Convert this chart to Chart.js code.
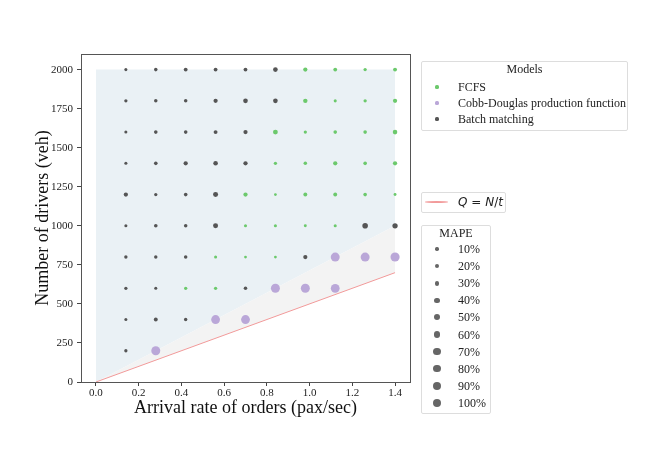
<!DOCTYPE html>
<html>
<head>
<meta charset="utf-8">
<script src="https://cdn.jsdelivr.net/npm/chart.js@4"></script>
<style>
  body { margin: 0; background: #fff; }
  #wrap { position: relative; width: 664px; height: 470px; }
  .box { position: absolute; background: #fff; border: 1px solid #ddd; border-radius: 2px; box-sizing: border-box; }
  .lg { position: absolute; font-family: "Liberation Serif", serif; font-size: 12px; color: #222; white-space: nowrap; height: 16px; line-height: 16px; }
  .dot { position: absolute; border-radius: 50%; }
  .math { font-family: "DejaVu Sans", sans-serif; font-size: 12px; }
</style>
</head>
<body>
<div id="wrap">
  <canvas id="chart" width="664" height="470"></canvas>
  <div id="legends"></div>
</div>
<script>
// grid of simulated scenarios
const arrivalRates = [0.14, 0.28, 0.42, 0.56, 0.70, 0.84, 0.98, 1.12, 1.26, 1.40];
const driverCounts = [2000, 1800, 1600, 1400, 1200, 1000, 800, 600, 400, 200];

// best model per scenario: B = batch matching, F = FCFS, C = Cobb-Douglas
const bestModel = [
    ['B', 'B', 'B', 'B', 'B', 'B', 'F', 'F', 'F', 'F'],
    ['B', 'B', 'B', 'B', 'B', 'B', 'F', 'F', 'F', 'F'],
    ['B', 'B', 'B', 'B', 'B', 'F', 'F', 'F', 'F', 'F'],
    ['B', 'B', 'B', 'B', 'B', 'F', 'F', 'F', 'F', 'F'],
    ['B', 'B', 'B', 'B', 'F', 'F', 'F', 'F', 'F', 'F'],
    ['B', 'B', 'B', 'B', 'F', 'F', 'F', 'F', 'B', 'B'],
    ['B', 'B', 'B', 'F', 'F', 'F', 'B', 'C', 'C', 'C'],
    ['B', 'B', 'F', 'F', 'B', 'C', 'C', 'C'],
    ['B', 'B', 'B', 'C', 'C'],
    ['B', 'C']
];

// MAPE (%) of the best model per scenario
const mapePct = [
    [8, 12, 15, 15, 15, 25, 20, 15, 10, 16],
    [10, 12, 12, 20, 25, 25, 22, 8, 10, 20],
    [8, 13, 13, 16, 20, 28, 10, 13, 13, 24],
    [8, 13, 20, 24, 20, 10, 12, 20, 13, 20],
    [20, 10, 13, 30, 20, 6, 16, 16, 13, 7],
    [8, 13, 12, 30, 8, 8, 7, 8, 40, 35],
    [11, 11, 12, 8, 6, 6, 20, 120, 120, 125],
    [10, 8, 10, 10, 12, 120, 120, 115],
    [8, 16, 11, 115, 115],
    [10, 120]
];

const xTickValues = [0, 0.2, 0.4, 0.6, 0.8, 1.0, 1.2, 1.4];
const yTickValues = [0, 250, 500, 750, 1000, 1250, 1500, 1750, 2000];
const mapeLegendLevels = [10, 20, 30, 40, 50, 60, 70, 80, 90, 100];

// region boundaries and Q = N/t line
const regionX = [0, 1.4];
const regionTop = [2000, 2000];
const regionSplit = [0, 1000];
const capacityLine = [0, 700];

const modelNames = { F: 'FCFS', C: 'Cobb-Douglas production function', B: 'Batch matching' };
const modelColors = { F: '#6cc96c', C: '#baa7d8', B: '#555555' };

const mapeRadius = m => 0.5 + 1.15 * Math.sqrt(m / 10);

const pts = { F: [], C: [], B: [] };
driverCounts.forEach((n, r) => {
    bestModel[r].forEach((m, c) => {
        pts[m].push({ x: arrivalRates[c], y: n, mape: mapePct[r][c] });
    });
});

const xy = ys => regionX.map((x, i) => ({ x: x, y: ys[i] }));

const scatterSet = key => ({
    type: 'scatter',
    label: modelNames[key],
    data: pts[key],
    backgroundColor: modelColors[key],
    borderWidth: 0,
    pointRadius: ctx => mapeRadius(ctx.raw ? ctx.raw.mape : 10),
    pointHoverRadius: ctx => mapeRadius(ctx.raw ? ctx.raw.mape : 10),
    order: 1
});

const frame = {
    id: 'frame',
    afterDatasetsDraw(chart) {
        const a = chart.chartArea;
        const c = chart.ctx;
        c.save();
        c.strokeStyle = '#555';
        c.lineWidth = 1;
        c.strokeRect(Math.round(a.left) + 0.5, Math.round(a.top) + 0.5,
            Math.round(a.right - a.left), Math.round(a.bottom - a.top));
        c.restore();
    }
};

const tickFont = { family: 'Liberation Serif', size: 11 };
const titleFont = { family: 'Liberation Serif', size: 18 };

new Chart(document.getElementById('chart'), {
    data: {
        datasets: [
            { type: 'line', data: xy(regionTop), borderWidth: 0, pointRadius: 0,
              backgroundColor: '#eaf1f5', fill: 1, order: 4 },
            { type: 'line', data: xy(regionSplit), borderWidth: 0, pointRadius: 0,
              backgroundColor: '#f3f3f3', fill: 2, order: 3 },
            { type: 'line', data: xy(capacityLine), borderColor: '#f29a9a', borderWidth: 1,
              pointRadius: 0, fill: false, order: 2 },
            scatterSet('F'),
            scatterSet('C'),
            scatterSet('B')
        ]
    },
    options: {
        responsive: false,
        animation: false,
        layout: { padding: { left: 0, top: 54, right: 254, bottom: 0 } },
        plugins: { legend: { display: false }, tooltip: { enabled: false } },
        scales: {
            x: {
                type: 'linear', min: -0.07, max: 1.47,
                afterBuildTicks: s => { s.ticks = xTickValues.map(v => ({ value: v })); },
                afterFit: s => { s.height = 88; },
                ticks: { font: tickFont, color: '#222', padding: 1, callback: v => v.toFixed(1) },
                grid: { drawOnChartArea: false, drawTicks: true, tickLength: 4, color: '#444' },
                border: { display: true, color: '#555' },
                title: { display: true, text: 'Arrival rate of orders (pax/sec)', font: titleFont,
                         color: '#111', padding: { top: 0, bottom: 51 } }
            },
            y: {
                type: 'linear', min: 0, max: 2100,
                afterBuildTicks: s => { s.ticks = yTickValues.map(v => ({ value: v })); },
                afterFit: s => { s.width = 81; },
                ticks: { font: tickFont, color: '#222', padding: 4, callback: v => String(v) },
                grid: { drawOnChartArea: false, drawTicks: true, tickLength: 4, color: '#444' },
                border: { display: true, color: '#555' },
                title: { display: true, text: 'Number of drivers (veh)', font: titleFont,
                         color: '#111', padding: { top: 32, bottom: 0 } }
            }
        }
    },
    plugins: [frame]
});

// legends (matplotlib style boxes at the right)
const lg = document.getElementById('legends');
function add(html, css, cls) {
    const d = document.createElement('div');
    d.className = cls;
    d.style.cssText = css;
    d.innerHTML = html;
    lg.appendChild(d);
}
function dot(cx, cy, r, color) {
    add('', `left:${cx - r}px;top:${cy - r}px;width:${2 * r}px;height:${2 * r}px;background:${color};`, 'dot');
}

// Models
add('', 'left:421px;top:61px;width:207px;height:70px;', 'box');
add('Models', 'left:421px;width:207px;text-align:center;top:61px;', 'lg');
['F', 'C', 'B'].forEach((k, i) => {
    const cy = 87 + i * 16;
    dot(437, cy, 1.6, modelColors[k]);
    add(modelNames[k], `left:458px;top:${cy - 8}px;`, 'lg');
});

// Q = N/t
add('', 'left:421px;top:192px;width:85px;height:21px;', 'box');
add('', 'left:425px;top:201px;width:23px;height:1.5px;background:#f29a9a;', 'dot');
add('<i>Q</i> = <i>N</i>/<i>t</i>', 'left:458px;top:194px;', 'lg math');

// MAPE sizes
add('', 'left:421px;top:225px;width:70px;height:189px;', 'box');
add('MAPE', 'left:421px;width:70px;text-align:center;top:225px;', 'lg');
mapeLegendLevels.forEach((m, i) => {
    const cy = 249 + i * 17.1;
    dot(437, cy, mapeRadius(m), '#666');
    add(m + '%', `left:458px;top:${cy - 8}px;`, 'lg');
});
</script>
</body>
</html>
